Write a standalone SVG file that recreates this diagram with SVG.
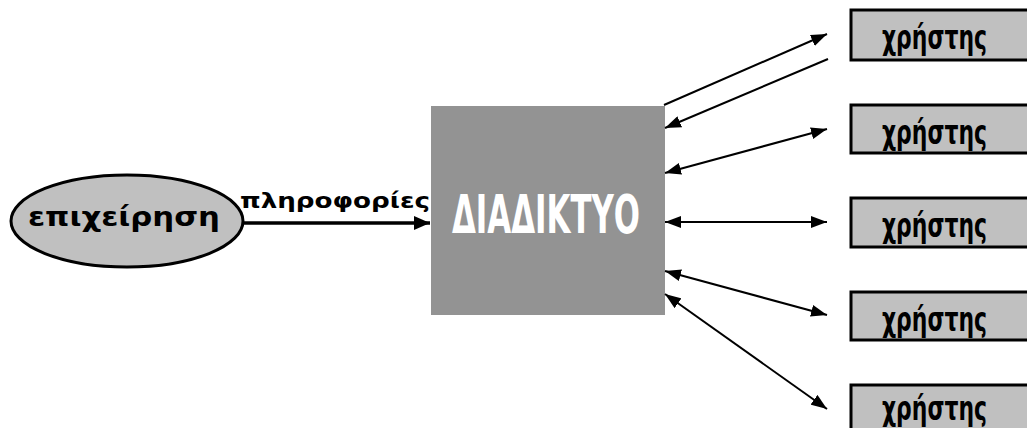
<svg xmlns="http://www.w3.org/2000/svg" width="1027" height="428" viewBox="0 0 1027 428">
  <style>
    .user-box { fill: #c0c0c0; stroke: #000; stroke-width: 3; }
    .user-label { font-family: "Liberation Sans Narrow", "DejaVu Sans Condensed", "Liberation Sans", sans-serif; font-stretch: condensed; font-weight: bold; font-size: 34px; fill: #000; }
    .link { stroke: #000; stroke-width: 2; fill: none; }
    .bold-sans { font-family: "DejaVu Sans", "Liberation Sans", sans-serif; font-weight: bold; fill: #000; }
  </style>
  <defs>
    <marker id="head" viewBox="0 0 16 12" refX="16" refY="6" markerWidth="16" markerHeight="12" markerUnits="userSpaceOnUse" orient="auto-start-reverse">
      <path d="M0,0 L16,6 L0,12 Z" fill="#000"/>
    </marker>
    <marker id="head-big" viewBox="0 0 16 14" refX="16" refY="7" markerWidth="16" markerHeight="14" markerUnits="userSpaceOnUse" orient="auto">
      <path d="M0,0 L16,7 L0,14 Z" fill="#000"/>
    </marker>
  </defs>

  <!-- company -->
  <g id="company">
    <ellipse cx="127" cy="221" rx="116" ry="46" fill="#c0c0c0" stroke="#000" stroke-width="3"/>
    <text class="bold-sans" x="28" y="226" font-size="27" textLength="192" lengthAdjust="spacingAndGlyphs">επιχείρηση</text>
  </g>

  <!-- internet -->
  <g id="internet">
    <rect x="431" y="106" width="234" height="209" fill="#939393"/>
    <text x="452" y="233" font-family="Liberation Sans Narrow, DejaVu Sans Condensed, Liberation Sans, sans-serif" font-stretch="condensed" font-weight="bold" font-size="53" fill="#fff" textLength="188" lengthAdjust="spacingAndGlyphs">ΔΙΑΔΙΚΤΥΟ</text>
  </g>

  <!-- users -->
  <g id="user1">
    <rect class="user-box" x="851" y="10" width="180" height="50"/>
    <text class="user-label" x="882" y="49" textLength="105" lengthAdjust="spacingAndGlyphs">χρήστης</text>
  </g>
  <g id="user2">
    <rect class="user-box" x="851" y="105" width="180" height="48"/>
    <text class="user-label" x="882" y="144" textLength="105" lengthAdjust="spacingAndGlyphs">χρήστης</text>
  </g>
  <g id="user3">
    <rect class="user-box" x="851" y="198" width="180" height="49"/>
    <text class="user-label" x="882" y="237" textLength="105" lengthAdjust="spacingAndGlyphs">χρήστης</text>
  </g>
  <g id="user4">
    <rect class="user-box" x="851" y="292" width="180" height="48"/>
    <text class="user-label" x="882" y="331" textLength="105" lengthAdjust="spacingAndGlyphs">χρήστης</text>
  </g>
  <g id="user5">
    <rect class="user-box" x="851" y="385" width="180" height="60"/>
    <text class="user-label" x="882" y="420" textLength="105" lengthAdjust="spacingAndGlyphs">χρήστης</text>
  </g>

  <!-- connectors -->
  <g id="connectors">
    <line x1="243" y1="223" x2="430" y2="223" stroke="#000" stroke-width="3.5" marker-end="url(#head-big)"/>
    <text class="bold-sans" x="240" y="208" font-size="21" textLength="190" lengthAdjust="spacingAndGlyphs">πληροφορίες</text>

    <line class="link" x1="664" y1="105" x2="827" y2="34" marker-end="url(#head)"/>
    <line class="link" x1="828" y1="59" x2="665" y2="128" marker-end="url(#head)"/>
    <line class="link" x1="665" y1="173" x2="827" y2="129" marker-start="url(#head)" marker-end="url(#head)"/>
    <line class="link" x1="665" y1="222" x2="827" y2="222" marker-start="url(#head)" marker-end="url(#head)"/>
    <line class="link" x1="665" y1="271" x2="827" y2="315" marker-start="url(#head)" marker-end="url(#head)"/>
    <line class="link" x1="665" y1="294" x2="827" y2="409" marker-start="url(#head)" marker-end="url(#head)"/>
  </g>
</svg>
